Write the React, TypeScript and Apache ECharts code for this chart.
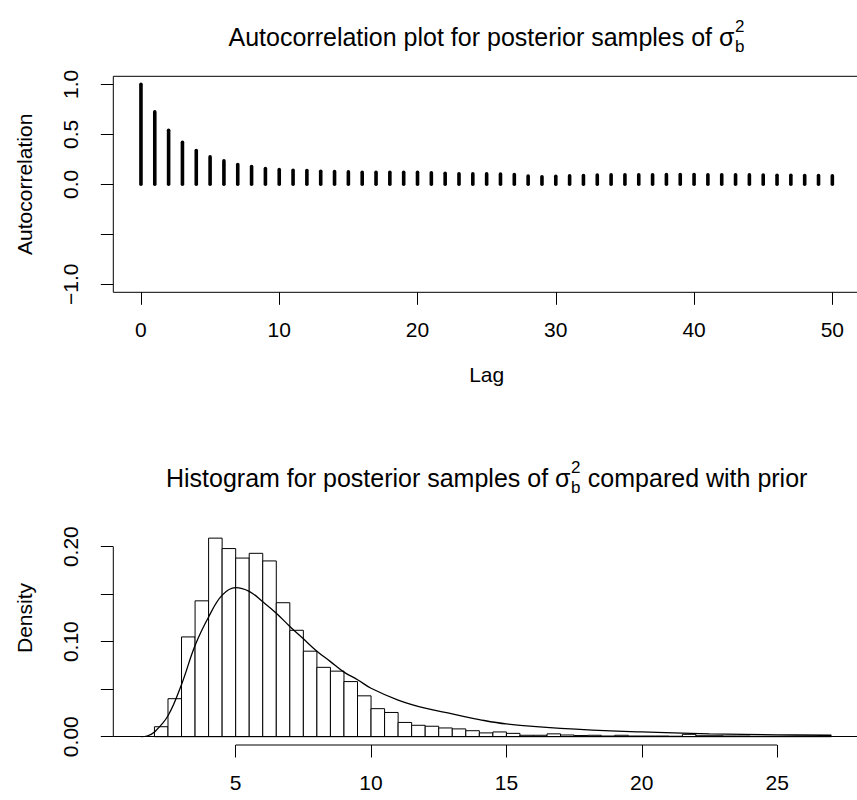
import React, { useEffect, useRef } from "react";
import * as echarts from "echarts";

// ---------- data: autocorrelation ----------
const acfLags = [
  0, 1, 2, 3, 4, 5, 6, 7, 8, 9, 10, 11, 12, 13, 14, 15, 16, 17, 18, 19, 20, 21, 22, 23, 24, 25,
  26, 27, 28, 29, 30, 31, 32, 33, 34, 35, 36, 37, 38, 39, 40, 41, 42, 43, 44, 45, 46, 47, 48, 49, 50,
];
const acfValues = [
  1.0, 0.724, 0.541, 0.421, 0.338, 0.274, 0.234, 0.198, 0.178, 0.158, 0.148, 0.141, 0.138, 0.131,
  0.128, 0.124, 0.121, 0.121, 0.121, 0.121, 0.121, 0.115, 0.11, 0.105, 0.104, 0.104, 0.102, 0.098,
  0.082, 0.076, 0.08, 0.085, 0.088, 0.092, 0.094, 0.096, 0.096, 0.096, 0.098, 0.098, 0.098, 0.096,
  0.096, 0.096, 0.094, 0.092, 0.09, 0.09, 0.088, 0.088, 0.086,
];
const lagTicks = [0, 10, 20, 30, 40, 50];
const acfTicks = [-1, -0.5, 0, 0.5, 1];
const acfTickLabels = [-1, 0, 0.5, 1];

// ---------- data: histogram + prior ----------
const histBreaks = [
  2, 2.5, 3, 3.5, 4, 4.5, 5, 5.5, 6, 6.5, 7, 7.5, 8, 8.5, 9, 9.5, 10, 10.5, 11, 11.5, 12, 12.5, 13,
  13.5, 14, 14.5, 15, 15.5, 16, 16.5, 17, 17.5, 18, 18.5, 19, 19.5, 20, 20.5, 21, 21.5, 22, 22.5, 23,
  23.5, 24, 24.5, 25, 25.5, 26, 26.5, 27,
];
const histDensity = [
  0.0105, 0.04, 0.105, 0.143, 0.209, 0.198, 0.188, 0.193, 0.185, 0.141, 0.112, 0.09, 0.073, 0.069,
  0.058, 0.043, 0.0295, 0.0255, 0.015, 0.012, 0.011, 0.0092, 0.0082, 0.0063, 0.004, 0.005, 0.0035,
  0.0015, 0.0015, 0.003, 0.0018, 0.0012, 0.0015, 0.0007, 0.0015, 0.0007, 0.0007, 0.0007, 0.0005,
  0.0025, 0.001, 0.001, 0.0007, 0.0007, 0.0004, 0.0004, 0.0004, 0.0004, 0.0004, 0.001,
];
const priorX = [
  1.5, 1.75, 2, 2.5, 3, 3.5, 4, 4.5, 5, 5.5, 6, 6.5, 7, 7.5, 8, 8.5, 9, 9.5, 10, 11, 12, 13, 14, 15,
  17, 20, 22.5, 25, 27,
];
const priorY = [
  0.0, 0.001, 0.005, 0.022, 0.055, 0.096, 0.126, 0.149, 0.157, 0.153, 0.142, 0.13, 0.116, 0.103,
  0.09, 0.079, 0.068, 0.06, 0.051, 0.0386, 0.03, 0.024, 0.018, 0.0134, 0.0088, 0.005, 0.003, 0.002,
  0.0015,
];
const histXTicks = [5, 10, 15, 20, 25];
const densTicks = [0, 0.05, 0.1, 0.15, 0.2];
const densTickLabels = [0, 0.1, 0.2];

// axis ranges (R-style 4% padding)
const lagMin = -2;
const lagMax = 52;
const acfMin = -1.08;
const acfMax = 1.08;
const histXMin = 0.48;
const histXMax = 28.06;
const densMin = -0.00874;
const densMax = 0.2586;

const FONT = "Liberation Sans";
const BASE = 21;
const TITLE = 25;

function titleElements(prefix: string, suffix: string, cx: number, cy: number) {
  const ctx = document.createElement("canvas").getContext("2d")!;
  ctx.font = `${TITLE}px "${FONT}"`;
  const w1 = ctx.measureText(prefix).width;
  const w2 = ctx.measureText(suffix).width;
  const small = 17;
  ctx.font = `${small}px "${FONT}"`;
  const ws = Math.max(ctx.measureText("b").width, ctx.measureText("2").width) + 1;
  const total = w1 + ws + w2;
  const x0 = cx - total / 2;
  const mk = (text: string, x: number, y: number, size: number) => ({
    type: "text",
    x,
    y,
    silent: true,
    style: {
      text,
      fill: "#000",
      fontSize: size,
      fontFamily: FONT,
      align: "left",
      verticalAlign: "middle",
      textAlign: "left",
      textVerticalAlign: "middle",
    },
  });
  const els: any[] = [
    mk(prefix, x0, cy, TITLE),
    mk("2", x0 + w1 + 0.5, cy - 11, small),
    mk("b", x0 + w1 + 0.5, cy + 9, small),
  ];
  if (suffix) els.push(mk(suffix, x0 + w1 + ws, cy, TITLE));
  return els;
}

export default function App() {
  const ref = useRef<HTMLDivElement>(null);

  useEffect(() => {
    if (!ref.current) return;
    const chart = echarts.init(ref.current, null, { renderer: "svg" });

    const textStyle = { color: "#000", fontSize: BASE, fontFamily: FONT };
    const tickStyle = { color: "#000", width: 1 };
    const hiddenLine = { show: false, onZero: false };

    const option: any = {
      animation: false,
      textStyle: { fontFamily: FONT },
      graphic: [
        ...titleElements("Autocorrelation plot for posterior samples of σ", "", 486.7, 37),
        ...titleElements("Histogram for posterior samples of σ", " compared with prior", 486.7, 478),
      ],
      grid: [
        {
          left: 113.3,
          top: 76.3,
          width: 746.7,
          height: 216,
          show: true,
          borderColor: "#000",
          borderWidth: 1,
          backgroundColor: "transparent",
          outerBoundsMode: "none",
        },
        {
          left: 113.3,
          top: 491,
          width: 746.7,
          height: 254,
          show: false,
          outerBoundsMode: "none",
        },
      ],
      xAxis: [
        {
          gridIndex: 0,
          type: "value",
          min: lagMin,
          max: lagMax,
          axisLine: hiddenLine,
          splitLine: { show: false },
          axisTick: { show: true, customValues: lagTicks, length: 12.5, lineStyle: tickStyle },
          axisLabel: { customValues: lagTicks, margin: 27, ...textStyle },
          name: "Lag",
          nameLocation: "middle",
          nameGap: 72,
          nameTextStyle: textStyle,
        },
        {
          gridIndex: 1,
          type: "value",
          min: histXMin,
          max: histXMax,
          axisLine: hiddenLine,
          splitLine: { show: false },
          axisTick: { show: true, customValues: histXTicks, length: 12.5, lineStyle: tickStyle },
          axisLabel: { customValues: histXTicks, margin: 27, ...textStyle },
        },
      ],
      yAxis: [
        {
          gridIndex: 0,
          type: "value",
          min: acfMin,
          max: acfMax,
          axisLine: hiddenLine,
          splitLine: { show: false },
          axisTick: { show: true, customValues: acfTicks, length: 12.5, lineStyle: tickStyle },
          axisLabel: {
            customValues: acfTickLabels,
            rotate: 90,
            margin: 32,
            ...textStyle,
            formatter: (v: number) => (v < 0 ? "\u2212" : "") + Math.abs(v).toFixed(1),
          },
          name: "Autocorrelation",
          nameLocation: "middle",
          nameGap: 78,
          nameTextStyle: textStyle,
        },
        {
          gridIndex: 1,
          type: "value",
          min: densMin,
          max: densMax,
          axisLine: hiddenLine,
          splitLine: { show: false },
          axisTick: { show: true, customValues: densTicks, length: 12.5, lineStyle: tickStyle },
          axisLabel: {
            customValues: densTickLabels,
            rotate: 90,
            margin: 32,
            ...textStyle,
            formatter: (v: number) => v.toFixed(2),
          },
          name: "Density",
          nameLocation: "middle",
          nameGap: 78,
          nameTextStyle: textStyle,
        },
      ],
      series: [
        {
          type: "custom",
          xAxisIndex: 0,
          yAxisIndex: 0,
          encode: { x: 0, y: 1 },
          data: acfLags.map((l, i) => [l, acfValues[i]]),
          renderItem: (_p: any, api: any) => {
            const a = api.coord([api.value(0), 0]);
            const b = api.coord([api.value(0), api.value(1)]);
            return {
              type: "line",
              shape: { x1: a[0], y1: a[1], x2: b[0], y2: b[1] },
              style: { stroke: "#000", lineWidth: 3.6, lineCap: "round" },
            };
          },
        },
        {
          type: "custom",
          xAxisIndex: 1,
          yAxisIndex: 1,
          encode: { x: [0, 1], y: 2 },
          data: histDensity.map((d, i) => [histBreaks[i], histBreaks[i + 1], d]),
          renderItem: (_p: any, api: any) => {
            const a = api.coord([api.value(0), api.value(2)]);
            const b = api.coord([api.value(1), 0]);
            return {
              type: "rect",
              shape: { x: a[0], y: a[1], width: b[0] - a[0], height: b[1] - a[1] },
              style: { fill: "#fff", stroke: "#000", lineWidth: 1 },
            };
          },
        },
        {
          type: "line",
          xAxisIndex: 1,
          yAxisIndex: 1,
          data: priorX.map((x, i) => [x, priorY[i]]),
          smooth: 0.4,
          showSymbol: false,
          symbol: "none",
          lineStyle: { color: "#000", width: 1.3 },
          silent: true,
          markLine: {
            symbol: "none",
            silent: true,
            label: { show: false },
            lineStyle: { color: "#000", width: 1, type: "solid" },
            data: [{ yAxis: 0 }],
          },
        },
        {
          type: "line",
          xAxisIndex: 1,
          yAxisIndex: 1,
          data: [
            [histXTicks[0], densMin],
            [histXTicks[histXTicks.length - 1], densMin],
          ],
          symbol: "none",
          clip: false,
          silent: true,
          lineStyle: { color: "#000", width: 1 },
        },
        {
          type: "line",
          xAxisIndex: 1,
          yAxisIndex: 1,
          data: [
            [histXMin, densTicks[0]],
            [histXMin, densTicks[densTicks.length - 1]],
          ],
          symbol: "none",
          clip: false,
          silent: true,
          lineStyle: { color: "#000", width: 1 },
        },
      ],
    };

    chart.setOption(option);
    return () => chart.dispose();
  }, []);

  return (
    <div
      ref={ref}
      style={{ position: "absolute", left: 0, top: 0, width: 857, height: 800, background: "#fff" }}
    />
  );
}
